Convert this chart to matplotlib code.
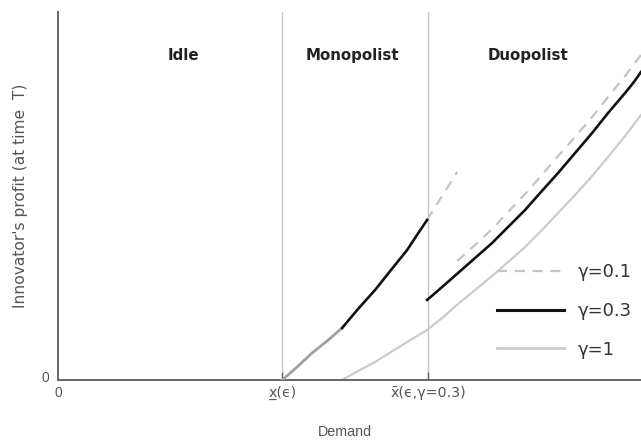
import matplotlib
matplotlib.use("Agg")
import matplotlib.pyplot as plt
from matplotlib.lines import Line2D

# ---- data ----
x_low = 1.0          # x(eps)
x_high = 1.65        # x-bar(eps, gamma=0.3)
x_max = 2.6
y_max = 3.68

# monopolist region, shared part (grey) and gamma=0.3 part (black)
mono_grey_x = [1.0, 1.066, 1.133, 1.200, 1.267]
mono_grey_y = [0.0, 0.13, 0.27, 0.39, 0.52]
mono_black_x = [1.267, 1.338, 1.414, 1.485, 1.557, 1.601, 1.646]
mono_black_y = [0.52, 0.71, 0.90, 1.10, 1.30, 1.45, 1.60]

# gamma = 0.1 (dashed): continuation of monopoly, then duopoly branch
g01_mono_x = [1.646, 1.713, 1.780]
g01_mono_y = [1.60, 1.84, 2.08]
g01_duo_x = [1.780, 1.860, 1.936, 2.007, 2.083, 2.154, 2.230, 2.306,
             2.382, 2.453, 2.529, 2.600]
g01_duo_y = [1.19, 1.35, 1.51, 1.68, 1.86, 2.04, 2.24, 2.43,
             2.63, 2.83, 3.04, 3.25]

# gamma = 0.3 (black) duopoly branch
g03_duo_x = [1.646, 1.713, 1.784, 1.860, 1.936, 2.007, 2.083, 2.154,
             2.230, 2.306, 2.382, 2.453, 2.529, 2.565, 2.600]
g03_duo_y = [0.80, 0.93, 1.07, 1.22, 1.37, 1.53, 1.70, 1.88,
             2.07, 2.27, 2.47, 2.67, 2.87, 2.97, 3.08]

# gamma = 1 (light grey)
g1_x = [1.267, 1.338, 1.414, 1.485, 1.557, 1.646, 1.713, 1.784, 1.860,
        1.936, 2.007, 2.083, 2.154, 2.230, 2.306, 2.382, 2.453, 2.529, 2.600]
g1_y = [0.0, 0.09, 0.18, 0.28, 0.38, 0.50, 0.62, 0.76, 0.90,
        1.04, 1.18, 1.33, 1.49, 1.67, 1.85, 2.04, 2.23, 2.44, 2.65]

regions = ["Idle", "Monopolist", "Duopolist"]
region_x = [0.56, 1.311, 2.096]
tick_pos = [x_low, x_high]
tick_labels = ["x\u0332(\u03f5)", "x\u0304(\u03f5,\u03b3=0.3)"]
legend_labels = ["\u03b3=0.1", "\u03b3=0.3", "\u03b3=1"]

# ---- figure ----
fig = plt.figure(figsize=(6.41, 4.40), dpi=100)
ax = fig.add_axes([58 / 641, 60 / 440, 583 / 641, 368 / 440])
ax.set_xlim(0, x_max)
ax.set_ylim(0, y_max)

for xv in tick_pos:
    ax.axvline(xv, color="#c4c4c4", lw=1.0, zorder=1)

dash_style = dict(color="#c4c4c4", lw=1.6, linestyle=(0, (4.5, 3.5)))
light = "#cccccc"

ax.plot(g1_x, g1_y, color=light, lw=1.6, zorder=2)
ax.plot(g01_mono_x, g01_mono_y, zorder=2, **dash_style)
ax.plot(g01_duo_x, g01_duo_y, zorder=2, **dash_style)
ax.plot(mono_grey_x, mono_grey_y, color="#a0a0a0", lw=2.0, zorder=3)
ax.plot(mono_black_x, mono_black_y, color="#111111", lw=1.9, zorder=3)
ax.plot(g03_duo_x, g03_duo_y, color="#111111", lw=1.9, zorder=3)

handles = [
    Line2D([], [], **dash_style),
    Line2D([], [], color="#111111", lw=2.2),
    Line2D([], [], color=light, lw=2.0),
]
leg = ax.legend(handles, legend_labels, loc="center left",
                bbox_to_anchor=(0.753, 0.1875), frameon=False,
                fontsize=13, handlelength=3.7, handletextpad=0.8,
                labelspacing=1.15, borderpad=0, borderaxespad=0)
for t in leg.get_texts():
    t.set_color("#333333")

for name, xv in zip(regions, region_x):
    ax.text(xv, 3.25, name, ha="center", va="center", fontsize=10.8,
            fontweight="bold", color="#222222")

ax.spines["top"].set_visible(False)
ax.spines["right"].set_visible(False)
for s in ["left", "bottom"]:
    ax.spines[s].set_color("#666666")
    ax.spines[s].set_linewidth(1.4)

lab_font = ["Liberation Sans", "DejaVu Sans"]
ax.set_xticks(tick_pos)
ax.set_xticklabels(tick_labels, fontsize=10.3, color="#555555", family="DejaVu Sans")
ax.tick_params(axis="x", direction="in", length=6, width=1, color="#666666", pad=4)
ax.set_yticks([])
ax.text(-0.04, 0.02, "0", ha="right", va="center", fontsize=10,
        color="#555555", family=lab_font)
ax.text(0.0, -0.13, "0", ha="center", va="center", fontsize=10,
        color="#555555", family=lab_font)

fig.text(345 / 641, 1 - 432 / 440, "Demand", ha="center", va="center",
         fontsize=10.3, color="#555555", family=lab_font)
fig.text(21 / 641, 1 - 196 / 440, "Innovator's profit (at time  T)",
         ha="center", va="center", rotation=90, fontsize=11.2,
         color="#555555", family="DejaVu Sans")

fig.savefig("out.png", dpi=100)
